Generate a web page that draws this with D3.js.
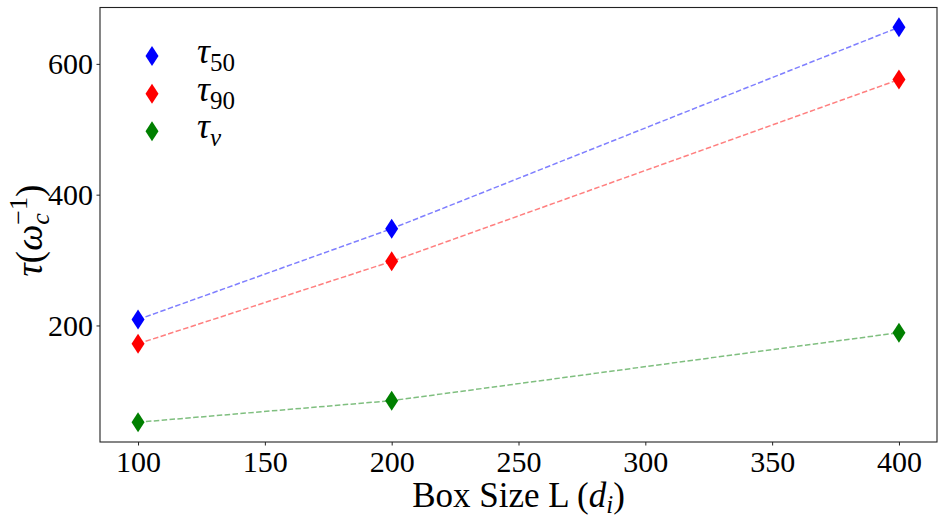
<!DOCTYPE html>
<html>
<head>
<meta charset="utf-8">
<script src="https://cdn.jsdelivr.net/npm/d3@7"></script>
<style>
  body { margin: 0; background: #fff; }
  svg text { font-family: "Liberation Serif", "DejaVu Serif", serif; fill: #000; }
</style>
</head>
<body>
<div id="chart"></div>
<script>
// box sizes and the three time scales
var boxSizes = [100, 200, 400];
var tau50 = [209, 348, 656];
var tau90 = [172, 298, 576];
var tauNu = [52, 85, 189];
var xTicks = [100, 150, 200, 250, 300, 350, 400];
var yTicks = [200, 400, 600];

var seriesNames = ["50", "90", "ν"];
var seriesColors = ["blue", "red", "green"];

function init() {
    var w = 944, h = 524;
    var margin = { top: 7.5, right: 7, bottom: 82, left: 100 };

    var svg = d3.select("#chart")
        .append("svg")
        .attr("width", w)
        .attr("height", h);

    var series = [tau50, tau90, tauNu];

    // matplotlib style 5% margins
    var xPad = (d3.max(boxSizes) - d3.min(boxSizes)) * 0.05;
    var allY = d3.merge(series);
    var yPad = (d3.max(allY) - d3.min(allY)) * 0.05;

    var x = d3.scaleLinear()
        .domain([d3.min(boxSizes) - xPad, d3.max(boxSizes) + xPad])
        .range([margin.left, w - margin.right]);

    var y = d3.scaleLinear()
        .domain([d3.min(allY) - yPad, d3.max(allY) + yPad])
        .range([h - margin.bottom, margin.top]);

    // dashed lines
    var line = d3.line()
        .x(function (d, i) { return x(boxSizes[i]); })
        .y(function (d) { return y(d); });

    svg.selectAll(".series-line")
        .data(series)
        .join("path")
        .attr("class", "series-line")
        .attr("d", line)
        .attr("fill", "none")
        .attr("stroke", function (d, i) { return seriesColors[i]; })
        .attr("stroke-opacity", 0.5)
        .attr("stroke-width", 1.5)
        .attr("stroke-dasharray", "5.5,2.4");

    var diamond = "M0,-10L6.5,0L0,10L-6.5,0Z";

    series.forEach(function (s, k) {
        svg.selectAll(".pt" + k)
            .data(s)
            .join("path")
            .attr("class", "pt" + k)
            .attr("d", diamond)
            .attr("fill", seriesColors[k])
            .attr("transform", function (d, i) {
                return "translate(" + x(boxSizes[i]) + "," + y(d) + ")";
            });
    });

    // axes
    var xAxis = d3.axisBottom(x)
        .tickValues(xTicks)
        .tickSize(3.5)
        .tickPadding(3.5)
        .tickSizeOuter(0);

    var yAxis = d3.axisLeft(y)
        .tickValues(yTicks)
        .tickSize(3.5)
        .tickPadding(3.5)
        .tickSizeOuter(0);

    var gx = svg.append("g")
        .attr("transform", "translate(0," + (h - margin.bottom) + ")")
        .call(xAxis);
    gx.select(".domain").remove();
    gx.selectAll("text")
        .style("font-size", "30px")
        .attr("dy", "0.77em");

    var gy = svg.append("g")
        .attr("transform", "translate(" + margin.left + ",0)")
        .call(yAxis);
    gy.select(".domain").remove();
    gy.selectAll("text")
        .style("font-size", "30px")
        .attr("dy", "0.33em");

    svg.selectAll(".tick line").attr("stroke", "#222").attr("stroke-width", 1);

    // frame
    svg.append("rect")
        .attr("x", margin.left)
        .attr("y", margin.top)
        .attr("width", w - margin.left - margin.right)
        .attr("height", h - margin.top - margin.bottom)
        .attr("fill", "none")
        .attr("stroke", "#222")
        .attr("stroke-width", 1.1);

    // x label
    var xl = svg.append("text")
        .attr("x", (margin.left + w - margin.right) / 2)
        .attr("y", 507)
        .attr("text-anchor", "middle")
        .style("font-size", "35px");
    xl.append("tspan").text("Box Size L (");
    xl.append("tspan").style("font-style", "italic").text("d");
    xl.append("tspan").style("font-size", "25px").attr("dy", 6).style("font-style", "italic").text("i");
    xl.append("tspan").attr("dy", -6).text(")");

    // y label: tau(omega_c^-1), rotated
    var yl = svg.append("g")
        .attr("transform", "translate(42," + ((margin.top + h - margin.bottom) / 2) + ") rotate(-90)");
    var parts = yl.append("text").style("font-size", "37px");
    parts.append("tspan").style("font-style", "italic").text("τ");
    parts.append("tspan").text("(");
    parts.append("tspan").style("font-style", "italic").text("ω");
    var cSpan = parts.append("tspan").style("font-style", "italic").style("font-size", "26px").attr("dy", 7).text("c");
    var supSpan = parts.append("tspan").style("font-size", "26px").attr("dy", -22).text("−1");
    parts.append("tspan").attr("dy", 15).text(")");
    // stack the superscript over the subscript
    var cLen = cSpan.node().getComputedTextLength();
    supSpan.attr("dx", -cLen);
    var total = parts.node().getComputedTextLength();
    parts.attr("x", -total / 2);

    // legend
    var legend = svg.append("g").attr("class", "legend");
    var legendY = [56, 93.7, 131.3];
    seriesNames.forEach(function (name, i) {
        legend.append("path")
            .attr("d", diamond)
            .attr("fill", seriesColors[i])
            .attr("transform", "translate(152," + legendY[i] + ")");
        var t = legend.append("text")
            .attr("x", 197)
            .attr("y", legendY[i] + 7)
            .style("font-size", "36px");
        t.append("tspan").style("font-style", "italic").text("τ");
        t.append("tspan")
            .style("font-size", "25px")
            .style("font-style", name === "ν" ? "italic" : "normal")
            .attr("dy", 8)
            .text(name);
    });
}

window.onload = init;
</script>
</body>
</html>
